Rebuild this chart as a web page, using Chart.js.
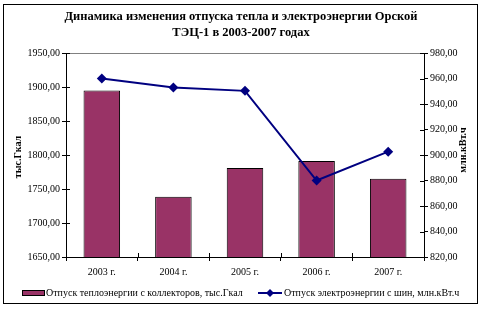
<!DOCTYPE html>
<html>
<head>
<meta charset="utf-8">
<script src="https://cdn.jsdelivr.net/npm/chart.js@4"></script>
<style>
  html, body { margin: 0; padding: 0; background: #fff; }
</style>
</head>
<body>
<canvas id="chart" width="481" height="311"></canvas>
<script>
// data
const years = ['2003 г.', '2004 г.', '2005 г.', '2006 г.', '2007 г.'];
const heat = [1895, 1738.5, 1781, 1791, 1765];
const power = [960, 953, 950.3, 880, 902.6];
const heatLabel = 'Отпуск теплоэнергии с коллекторов, тыс.Гкал';
const powerLabel = 'Отпуск электроэнергии с шин, млн.кВт.ч';
const titleLines = ['Динамика изменения отпуска тепла и электроэнергии Орской', 'ТЭЦ-1 в 2003-2007 годах'];
const leftTitle = 'тыс.Гкал';
const rightTitle = 'млн.кВт.ч';

const serif = '"Liberation Serif", "Times New Roman", serif';
const fmt = v => v.toFixed(2).replace('.', ',');

// frame, title, axis titles, cross ticks, legend
const decor = {
  id: 'decor',
  afterDraw(chart) {
    const c = chart.ctx;
    const a = chart.chartArea;
    c.save();
    // outer frame
    c.strokeStyle = '#000';
    c.lineWidth = 1;
    c.strokeRect(3.5, 4.5, 474, 299);

    // top grey line of plot
    c.strokeStyle = '#808080';
    c.beginPath();
    c.moveTo(a.left, Math.round(a.top) + 0.5);
    c.lineTo(a.right, Math.round(a.top) + 0.5);
    c.stroke();

    // inner halves of the cross tick marks
    c.strokeStyle = '#000';
    c.beginPath();
    const y = chart.scales.y, y1 = chart.scales.y1;
    y.ticks.forEach((t, i) => {
      const py = Math.round(y.getPixelForTick(i)) + 0.5;
      c.moveTo(a.left, py); c.lineTo(a.left + 4, py);
    });
    y1.ticks.forEach((t, i) => {
      const py = Math.round(y1.getPixelForTick(i)) + 0.5;
      c.moveTo(a.right, py); c.lineTo(a.right - 4, py);
    });
    for (let i = 0; i <= years.length; i++) {
      const px = Math.round(a.left + (a.right - a.left) * i / years.length) + 0.5;
      c.moveTo(px, a.bottom); c.lineTo(px, a.bottom - 4);
    }
    c.stroke();

    // title
    c.fillStyle = '#000';
    c.textAlign = 'center';
    c.textBaseline = 'middle';
    c.font = 'bold 12.5px ' + serif;
    c.fillText(titleLines[0], 241, 17);
    c.fillText(titleLines[1], 241, 33);

    // axis titles
    c.font = 'bold 10px ' + serif;
    c.save();
    c.translate(18, 157);
    c.rotate(-Math.PI / 2);
    c.fillText(leftTitle, 0, 0);
    c.restore();
    c.save();
    c.translate(463, 150);
    c.rotate(-Math.PI / 2);
    c.fillText(rightTitle, 0, 0);
    c.restore();

    // legend
    const ly = 293;
    c.font = '10px ' + serif;
    c.textAlign = 'left';
    c.fillStyle = '#993366';
    c.fillRect(22, ly - 3, 23, 6);
    c.strokeStyle = '#000';
    c.strokeRect(22.5, ly - 2.5, 22, 5);
    c.fillStyle = '#000';
    c.fillText(heatLabel, 46, ly);

    c.strokeStyle = '#000080';
    c.lineWidth = 2;
    c.beginPath();
    c.moveTo(258, ly); c.lineTo(282, ly);
    c.stroke();
    c.fillStyle = '#000080';
    c.beginPath();
    c.moveTo(270, ly - 4); c.lineTo(274, ly); c.lineTo(270, ly + 4); c.lineTo(266, ly);
    c.closePath(); c.fill();
    c.fillStyle = '#000';
    c.fillText(powerLabel, 284, ly);
    c.restore();
  }
};

new Chart(document.getElementById('chart'), {
  data: {
    labels: years,
    datasets: [
      {
        type: 'line',
        label: powerLabel,
        data: power,
        yAxisID: 'y1',
        borderColor: '#000080',
        backgroundColor: '#000080',
        borderWidth: 2,
        pointStyle: 'rectRot',
        pointRadius: 5,
        pointBorderWidth: 0,
        tension: 0,
        order: 0
      },
      {
        type: 'bar',
        label: heatLabel,
        data: heat,
        yAxisID: 'y',
        backgroundColor: '#993366',
        borderColor: '#000',
        borderWidth: 1,
        barPercentage: 0.51,
        categoryPercentage: 1,
        order: 1
      }
    ]
  },
  options: {
    responsive: false,
    animation: false,
    layout: { padding: { top: 53, left: 0, right: 0, bottom: 0 } },
    plugins: { legend: { display: false }, title: { display: false }, tooltip: { enabled: false } },
    scales: {
      x: {
        offset: true,
        grid: { offset: true, drawOnChartArea: false, tickLength: 4, color: '#000' },
        border: { color: '#000' },
        ticks: { color: '#000', padding: 5, font: { family: serif, size: 10 }, maxRotation: 0 },
        afterFit: s => { s.height = 54; }
      },
      y: {
        position: 'left',
        min: 1650, max: 1950,
        grid: { drawOnChartArea: false, tickLength: 4, color: '#000' },
        border: { color: '#000' },
        ticks: { stepSize: 50, color: '#000', padding: 2, font: { family: serif, size: 10 }, callback: v => fmt(v) },
        afterFit: s => { s.width = 66; }
      },
      y1: {
        position: 'right',
        min: 820, max: 980,
        grid: { drawOnChartArea: false, tickLength: 4, color: '#000' },
        border: { color: '#000' },
        ticks: { stepSize: 20, color: '#000', padding: 2, font: { family: serif, size: 10 }, callback: v => fmt(v) },
        afterFit: s => { s.width = 57; }
      }
    }
  },
  plugins: [decor]
});
</script>
</body>
</html>
